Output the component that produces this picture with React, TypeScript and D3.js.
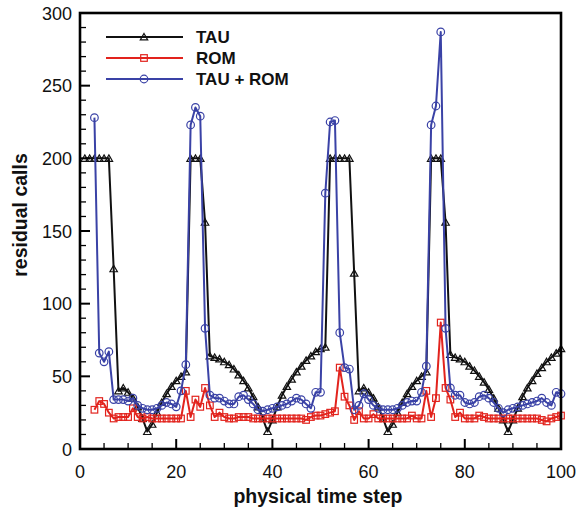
import React from "react";
import * as d3 from "d3";

const tauStart = 1;
const tauValues = [
  200, 200, 200, 200, 200, 200, 124,
  40, 42, 39, 35, 29, 21, 12,
  17, 25, 32, 38, 43, 47, 50, 53,
  200, 200, 200, 156,
  64, 63, 62, 60, 58, 55, 51, 47, 42, 36, 29, 21, 12,
  20, 29, 37, 43, 48, 53, 57, 61, 64, 67, 69, 70,
  200, 200, 200, 200, 200, 121,
  40, 42, 39, 35, 29, 21, 12,
  17, 25, 32, 38, 43, 47, 50, 53,
  200, 200, 200, 156,
  65, 63, 62, 60, 57, 54, 50, 46, 41, 35, 28, 20, 12,
  20, 28, 36, 42, 47, 52, 56, 60, 63, 66, 69,
];

const romStart = 3;
const romValues = [
  27, 33, 31, 25,
  21, 22, 22, 22, 28, 22, 21, 22, 21, 21, 21, 21, 21, 21, 21,
  40, 22, 34, 29, 42, 30, 22, 25, 22,
  21, 21, 22, 22, 22, 21, 21, 21, 21, 21, 21, 21, 21, 21, 21, 21,
  20, 22, 23, 23, 24, 25, 26,
  56, 36, 30, 20, 26, 21,
  21, 24, 21, 21, 21, 21, 21, 21, 21, 23, 21, 21,
  40, 22, 35, 87, 42, 34, 22, 25, 21,
  21, 21, 23, 22, 21, 21, 21, 21, 21, 21, 21, 21, 21, 21, 21, 20, 19, 21, 22, 23,
];

const bothStart = 3;
const bothValues = [
  228, 66, 60, 67,
  34, 34, 34, 33, 35, 30, 28, 27, 27, 28, 30, 32, 31, 29, 40, 58,
  223, 235, 229, 83,
  37, 35, 35, 33, 31, 31, 36, 37, 34, 31, 27, 26, 27,
  28, 29, 30, 31, 33, 35, 34, 31, 28, 39, 39,
  176, 225, 226, 80, 56, 55,
  27, 30, 38, 34, 30, 28, 27, 27, 27, 28, 30, 32, 33, 33, 39, 57,
  223, 236, 287, 83,
  42, 37, 37, 32, 31, 32, 36, 37, 35, 32, 28, 25, 27, 28, 29, 30, 31, 32, 33, 35, 32, 30, 39, 38,
];

const seriesNames = ["TAU", "ROM", "TAU + ROM"];
const xTickValues = [0, 20, 40, 60, 80, 100];
const yTickValues = [0, 50, 100, 150, 200, 250, 300];
const xLabel = "physical time step";
const yLabel = "residual calls";

const W = 577;
const H = 513;
const left = 80;
const right = 561;
const top = 13;
const bottom = 449;

const FONT = "'Liberation Sans', Arial, Helvetica, sans-serif";
const RED = "#e2231d";
const BLUE = "#3a42a6";
const BLACK = "#111111";

type Pt = { x: number; y: number };
const toPts = (start: number, vals: number[]): Pt[] =>
  vals.map((v, i) => ({ x: start + i, y: v }));

export default function App() {
  const x = d3.scaleLinear().domain([0, 100]).range([left, right]);
  const y = d3.scaleLinear().domain([0, 300]).range([bottom, top]);
  const line = d3
    .line<Pt>()
    .x((d) => x(d.x))
    .y((d) => y(d.y));

  const tau = toPts(tauStart, tauValues);
  const rom = toPts(romStart, romValues);
  const both = toPts(bothStart, bothValues);

  const tri = d3.symbol(d3.symbolTriangle, 24)() as string;
  const sq = 6.6;
  const cr = 3.8;

  const xMinor = d3.range(0, 101, 5).filter((v) => v % 20 !== 0);
  const yMinor = d3.range(0, 301, 10).filter((v) => v % 50 !== 0);

  const marker = (kind: number, cx: number, cy: number, key: string | number) => {
    if (kind === 0)
      return (
        <path key={key} d={tri} transform={`translate(${cx},${cy + 0.8})`} fill="none" stroke={BLACK} strokeWidth={1.2} />
      );
    if (kind === 1)
      return (
        <rect key={key} x={cx - sq / 2} y={cy - sq / 2} width={sq} height={sq} fill="none" stroke={RED} strokeWidth={1.2} />
      );
    return <circle key={key} cx={cx} cy={cy} r={cr} fill="none" stroke={BLUE} strokeWidth={1.2} />;
  };

  const series = [
    { data: tau, color: BLACK, kind: 0 },
    { data: rom, color: RED, kind: 1 },
    { data: both, color: BLUE, kind: 2 },
  ];

  const legendY = [37, 58, 79];

  return (
    <svg
      width={W}
      height={H}
      style={{ position: "absolute", left: 0, top: 0, background: "white" }}
      fontFamily={FONT}
    >
      <rect x={0} y={0} width={W} height={H} fill="white" />
      {series.map((s, si) => (
        <g key={si}>
          <path d={line(s.data) as string} fill="none" stroke={s.color} strokeWidth={2} strokeLinejoin="round" />
          {s.data.map((d, i) => marker(s.kind, x(d.x), y(d.y), i))}
        </g>
      ))}

      {xTickValues.map((v) => (
        <line key={"xM" + v} x1={x(v)} x2={x(v)} y1={bottom} y2={bottom - 10} stroke="black" strokeWidth={2} />
      ))}
      {xMinor.map((v) => (
        <line key={"xm" + v} x1={x(v)} x2={x(v)} y1={bottom} y2={bottom - 6} stroke="black" strokeWidth={1.3} />
      ))}
      {yTickValues.map((v) => (
        <line key={"yM" + v} x1={left} x2={left + 10} y1={y(v)} y2={y(v)} stroke="black" strokeWidth={2} />
      ))}
      {yMinor.map((v) => (
        <line key={"ym" + v} x1={left} x2={left + 6} y1={y(v)} y2={y(v)} stroke="black" strokeWidth={1.3} />
      ))}

      <rect x={left} y={top} width={right - left} height={bottom - top} fill="none" stroke="black" strokeWidth={2.6} />

      {xTickValues.map((v) => (
        <text key={"xl" + v} x={x(v)} y={478} textAnchor="middle" fontSize={18} fill="#111">
          {v}
        </text>
      ))}
      {yTickValues.map((v) => (
        <text key={"yl" + v} x={72} y={y(v) + 6.5} textAnchor="end" fontSize={18} fill="#111">
          {v}
        </text>
      ))}

      <text x={318} y={503} textAnchor="middle" fontSize={19.5} fontWeight="bold" fill="#111">
        {xLabel}
      </text>
      <text
        transform={`translate(27,${215}) rotate(-90)`}
        textAnchor="middle"
        fontSize={19.5}
        fontWeight="bold"
        fill="#111"
      >
        {yLabel}
      </text>

      {series.map((s, i) => (
        <g key={"lg" + i}>
          <line x1={106} x2={183} y1={legendY[i]} y2={legendY[i]} stroke={s.color} strokeWidth={2} />
          {marker(s.kind, 144, legendY[i], "m" + i)}
          <text x={196} y={legendY[i] + 6} fontSize={17} fontWeight="bold" fill="#111">
            {seriesNames[i]}
          </text>
        </g>
      ))}
    </svg>
  );
}
